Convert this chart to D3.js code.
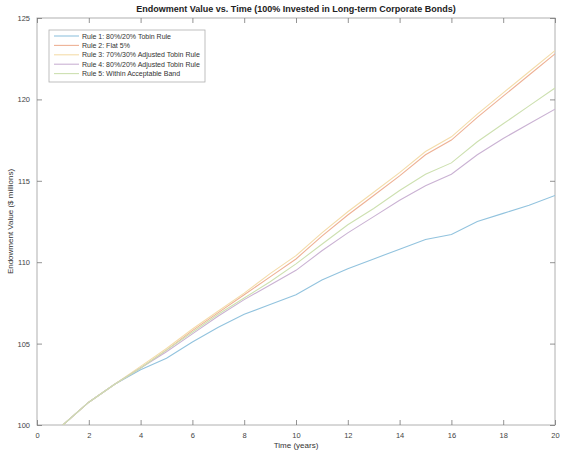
<!DOCTYPE html>
<html><head><meta charset="utf-8">
<script src="https://cdn.jsdelivr.net/npm/d3@7"></script>
<style>body{margin:0;background:#fff;}svg{display:block;font-family:"Liberation Sans",Arial,sans-serif;}</style>
</head><body><svg id="c" width="562" height="456"></svg>
<script>
const years = [1,2,3,4,5,6,7,8,9,10,11,12,13,14,15,16,17,18,19,20];
const rule1 = [100,101.4,102.5,103.4,104.1,105.1,106.0,106.8,107.4,108.0,108.9,109.6,110.2,110.8,111.4,111.7,112.5,113.0,113.5,114.1];
const rule2 = [100,101.4,102.5,103.5,104.6,105.8,106.9,108.0,109.1,110.2,111.6,112.9,114.1,115.3,116.6,117.5,118.9,120.2,121.5,122.8];
const rule3 = [100,101.4,102.5,103.6,104.7,105.9,107.0,108.1,109.3,110.4,111.8,113.1,114.3,115.5,116.8,117.7,119.1,120.4,121.7,123.0];
const rule4 = [100,101.4,102.5,103.5,104.5,105.6,106.7,107.7,108.6,109.5,110.7,111.8,112.8,113.8,114.7,115.4,116.6,117.6,118.5,119.4];
const rule5 = [100,101.4,102.5,103.5,104.6,105.7,106.8,107.8,108.8,109.9,111.1,112.3,113.3,114.4,115.4,116.1,117.4,118.5,119.6,120.7];
const seriesNames = ["Rule 1: 80%/20% Tobin Rule","Rule 2: Flat 5%","Rule 3: 70%/30% Adjusted Tobin Rule","Rule 4: 80%/20% Adjusted Tobin Rule","Rule 5: Within Acceptable Band"];
const seriesColors = ["#92c3de","#eeb195","#f4dcaa","#cab2d3","#cde0b0"];
const xTicks = [0,2,4,6,8,10,12,14,16,18,20];
const yTicks = [100,105,110,115,120,125];

const series = [rule1,rule2,rule3,rule4,rule5];
const svg = d3.select("#c");
const L=37,R=555,T=18,B=425;
const x = d3.scaleLinear().domain([0,20]).range([L,R]);
const y = d3.scaleLinear().domain([100,125]).range([B,T]);

svg.append("rect").attr("x",L).attr("y",T).attr("width",R-L).attr("height",B-T)
  .attr("fill","#fff").attr("stroke","#b0b0b0").attr("stroke-width",1);

const tickLen=5;
const xb = svg.append("g").attr("transform",`translate(0,${B})`).call(d3.axisBottom(x).tickValues(xTicks).tickSizeInner(-tickLen).tickSizeOuter(0).tickPadding(8));
const xt = svg.append("g").attr("transform",`translate(0,${T})`).call(d3.axisTop(x).tickValues(xTicks).tickSizeInner(-tickLen).tickSizeOuter(0).tickFormat(""));
const yl = svg.append("g").attr("transform",`translate(${L},0)`).call(d3.axisLeft(y).tickValues(yTicks).tickSizeInner(-tickLen).tickSizeOuter(0).tickPadding(7));
const yr = svg.append("g").attr("transform",`translate(${R},0)`).call(d3.axisRight(y).tickValues(yTicks).tickSizeInner(-tickLen).tickSizeOuter(0).tickFormat(""));
[xb,xt,yl,yr].forEach(g=>{
  g.select(".domain").remove();
  g.selectAll("line").attr("stroke","#777").attr("stroke-width",0.8);
  g.selectAll("text").attr("fill","#444").style("font-size","7.5px").style("font-family","Liberation Sans, Arial, sans-serif");
});

const clip = svg.append("clipPath").attr("id","clp").append("rect").attr("x",L).attr("y",T).attr("width",R-L).attr("height",B-T);
const line = d3.line().x((d,i)=>x(years[i])).y(d=>y(d));
series.forEach((s,k)=>{
  svg.append("path").datum(s).attr("d",line).attr("fill","none")
    .attr("stroke",seriesColors[k]).attr("stroke-width",1.1).attr("clip-path","url(#clp)");
});

svg.append("text").attr("x",(L+R)/2).attr("y",12).attr("text-anchor","middle")
  .style("font-size","9px").style("font-weight","bold").attr("fill","#222")
  .text("Endowment Value vs. Time (100% Invested in Long-term Corporate Bonds)");
svg.append("text").attr("x",(L+R)/2).attr("y",448).attr("text-anchor","middle")
  .style("font-size","8px").attr("fill","#333").text("Time (years)");
svg.append("text").attr("transform",`translate(13,${(T+B)/2}) rotate(-90)`).attr("text-anchor","middle")
  .style("font-size","8px").attr("fill","#333").text("Endowment Value ($ millions)");

const lg = svg.append("g");
lg.append("rect").attr("x",49).attr("y",30).attr("width",156).attr("height",52)
  .attr("fill","#fff").attr("stroke","#b0b0b0").attr("stroke-width",0.8);
seriesNames.forEach((n,i)=>{
  const yy = 36 + i*9.4;
  lg.append("line").attr("x1",54).attr("x2",79).attr("y1",yy).attr("y2",yy)
    .attr("stroke",seriesColors[i]).attr("stroke-width",1.1);
  lg.append("text").attr("x",82).attr("y",yy+2.6).style("font-size","7px").attr("fill","#333").text(n);
});
</script></body></html>
